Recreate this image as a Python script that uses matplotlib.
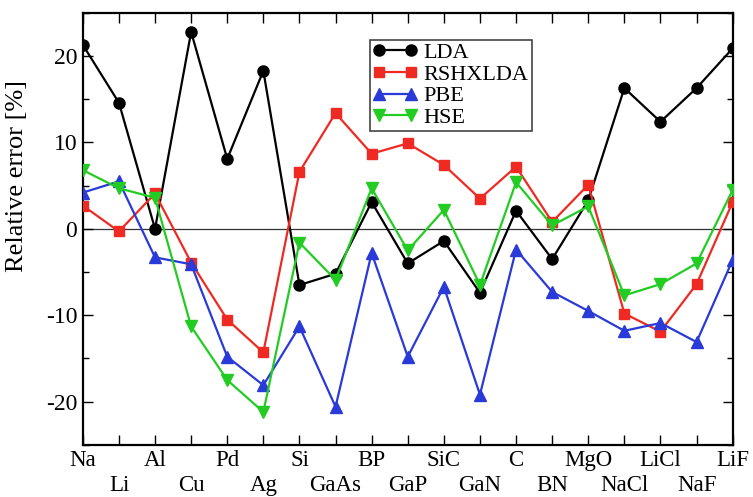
import matplotlib
matplotlib.use("Agg")
import matplotlib.pyplot as plt
from matplotlib.ticker import MultipleLocator, FixedLocator

materials = ["Na", "Li", "Al", "Cu", "Pd", "Ag", "Si", "GaAs", "BP", "GaP",
             "SiC", "GaN", "C", "BN", "MgO", "NaCl", "LiCl", "NaF", "LiF"]

lda = [21.3, 14.6, 0.0, 22.8, 8.1, 18.3, -6.5, -5.2, 3.1, -4.0,
       -1.4, -7.4, 2.1, -3.5, 3.3, 16.3, 12.4, 16.3, 20.9]
rshxlda = [2.7, -0.3, 4.1, -3.9, -10.5, -14.3, 6.6, 13.4, 8.7, 9.9,
           7.4, 3.5, 7.2, 0.8, 5.1, -9.8, -11.9, -6.4, 3.1]
pbe = [4.2, 5.5, -3.3, -4.1, -14.8, -18.1, -11.3, -20.6, -2.8, -14.8,
       -6.7, -19.2, -2.4, -7.3, -9.5, -11.8, -10.9, -13.1, -3.6]
hse = [6.8, 4.7, 3.6, -11.3, -17.5, -21.2, -1.6, -5.9, 4.7, -2.5,
       2.2, -6.5, 5.4, 0.4, 2.6, -7.7, -6.4, -4.0, 4.5]

plt.rcParams['font.family'] = ['Liberation Serif', 'DejaVu Serif']

fig = plt.figure(figsize=(7.53, 4.97), dpi=100)
ax = fig.add_axes([0.110, 0.105, 0.863, 0.869])

x = list(range(len(materials)))
ax.axhline(0, color='#333333', lw=0.9, zorder=1)

ax.plot(x, lda, '-o', color='black', lw=1.6, ms=8, label='LDA', zorder=3)
ax.plot(x, rshxlda, '-s', color='#ee2a22', lw=1.6, ms=7, label='RSHXLDA', zorder=3)
ax.plot(x, pbe, '-^', color='#2a3ad8', lw=1.6, ms=8, label='PBE', zorder=3)
ax.plot(x, hse, '-v', color='#22cc22', lw=1.6, ms=8, label='HSE', zorder=3)

ax.set_xlim(0, len(materials) - 1)
ax.set_ylim(-25, 25)

even = [i for i in x if i % 2 == 0]
odd = [i for i in x if i % 2 == 1]
ax.xaxis.set_major_locator(FixedLocator(even))
ax.xaxis.set_minor_locator(FixedLocator(odd))
ax.set_xticklabels([materials[i] for i in even], fontsize=16.5)
ax.set_xticklabels([materials[i] for i in odd], minor=True, fontsize=16.5)

ax.yaxis.set_major_locator(MultipleLocator(10))
ax.yaxis.set_minor_locator(MultipleLocator(5))
ax.set_yticks([-20, -10, 0, 10, 20])
ax.set_yticklabels(['-20', '-10', '0', '10', '20'], fontsize=17)
ax.tick_params(axis='both', which='major', direction='in', length=7, width=1.0,
               top=True, right=True, pad=4)
ax.tick_params(axis='x', which='minor', direction='in', length=7, width=1.0,
               top=True, pad=21.5)
ax.tick_params(axis='y', which='minor', direction='in', length=4, width=1.0, right=True)
ax.set_ylabel('Relative error [%]', fontsize=19)
ax.yaxis.set_label_coords(-0.085, 0.623)
for s in ax.spines.values():
    s.set_linewidth(1.6)

leg = ax.legend(loc='upper left', bbox_to_anchor=(0.442, 0.9375), borderaxespad=0,
                fontsize=16, numpoints=2, handlelength=2.0, handletextpad=0.3,
                labelspacing=0.05, borderpad=0.12, fancybox=False, framealpha=1,
                edgecolor='#444444')
leg.get_frame().set_linewidth(1.2)

fig.savefig('out.png', dpi=100)
